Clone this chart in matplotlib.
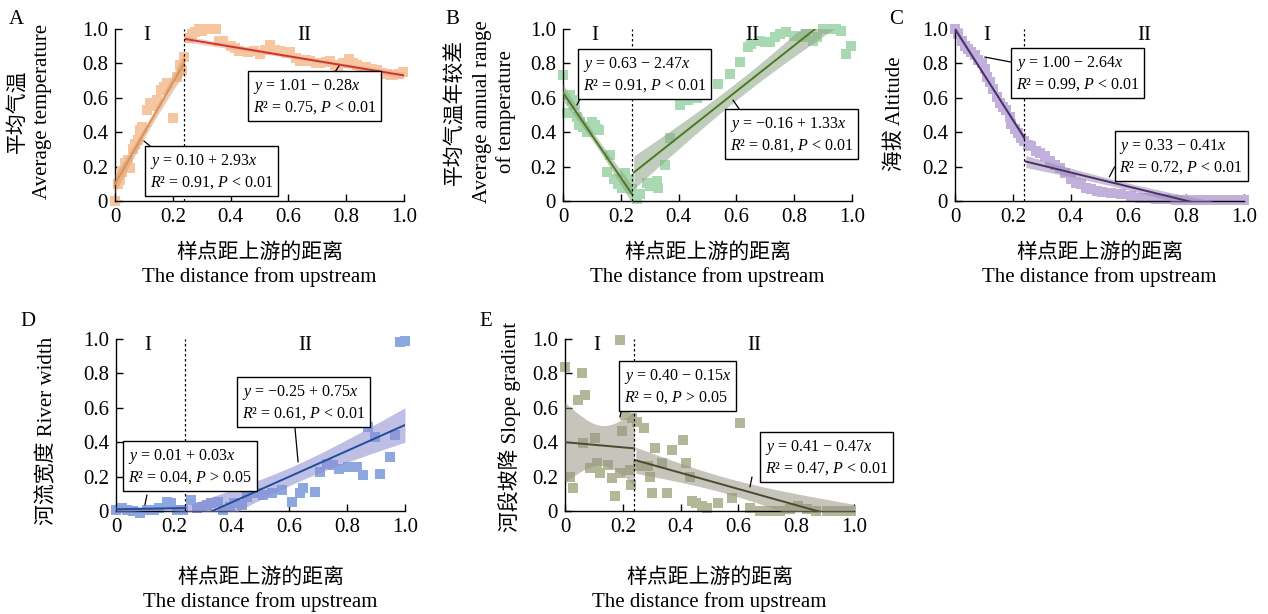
import numpy as np
import matplotlib
matplotlib.use("Agg")
import matplotlib.pyplot as plt

plt.rcParams['font.family'] = ['Liberation Serif', 'Noto Sans CJK SC']
plt.rcParams['mathtext.fontset'] = 'custom'
plt.rcParams['mathtext.rm'] = 'Liberation Serif'
plt.rcParams['mathtext.it'] = 'Liberation Serif:italic'

# ---- data (normalised values) ----
a_x = [0.000, 0.010, 0.017, 0.025, 0.035, 0.045, 0.052, 0.062, 0.070, 0.080, 0.087, 0.095,
       0.110, 0.120, 0.130, 0.144, 0.160, 0.170, 0.180, 0.200, 0.213, 0.225, 0.232, 0.240,
       0.255, 0.265, 0.277, 0.290, 0.300, 0.310, 0.322, 0.335, 0.350, 0.360, 0.375, 0.400,
       0.415, 0.430, 0.460, 0.480, 0.500, 0.520, 0.536, 0.555, 0.570, 0.590, 0.605, 0.625,
       0.640, 0.660, 0.675, 0.695, 0.710, 0.730, 0.745, 0.760, 0.773, 0.790, 0.810, 0.825,
       0.836, 0.850, 0.870, 0.890, 0.905, 0.925, 0.940, 0.955, 0.963, 0.980, 0.998]
a_y = [0.00, 0.10, 0.12, 0.17, 0.22, 0.24, 0.19, 0.30, 0.33, 0.355, 0.41, 0.43,
       0.53, 0.57, 0.55, 0.59, 0.645, 0.66, 0.685, 0.48, 0.72, 0.79, 0.76, 0.84,
       0.95, 0.97, 0.98, 1.00, 0.99, 1.00, 1.00, 1.00, 1.00, 0.93, 0.93, 0.90,
       0.89, 0.875, 0.865, 0.87, 0.855, 0.88, 0.905, 0.88, 0.875, 0.86, 0.865, 0.83,
       0.815, 0.82, 0.815, 0.80, 0.80, 0.81, 0.815, 0.79, 0.78, 0.80, 0.825, 0.80,
       0.79, 0.78, 0.78, 0.77, 0.76, 0.745, 0.74, 0.735, 0.73, 0.74, 0.75]

b_x = [0.000, 0.014, 0.025, 0.030, 0.043, 0.048, 0.055, 0.060, 0.070, 0.083, 0.100, 0.110,
       0.117, 0.123, 0.152, 0.163, 0.175, 0.190, 0.204, 0.215, 0.227, 0.238,
       0.255, 0.267, 0.290, 0.300, 0.325, 0.330, 0.353, 0.370, 0.405, 0.417, 0.434, 0.445,
       0.463, 0.474, 0.497, 0.537, 0.578, 0.612, 0.640, 0.652, 0.680, 0.700, 0.716, 0.733,
       0.750, 0.773, 0.800, 0.830, 0.842, 0.865, 0.880, 0.900, 0.923, 0.946, 0.963, 0.980,
       0.998]
b_y = [0.73, 0.51, 0.615, 0.587, 0.56, 0.49, 0.44, 0.46, 0.43, 0.40, 0.46, 0.44,
       0.42, 0.41, 0.17, 0.27, 0.125, 0.096, 0.077, 0.16, 0.125, 0.067,
       0.01, 0.038, 0.106, 0.087, 0.115, 0.077, 0.21, 0.365, 0.557, 0.596, 0.587, 0.606,
       0.596, 0.615, 0.644, 0.683, 0.74, 0.81, 0.894, 0.913, 0.933, 0.923, 0.923, 0.952,
       0.97, 0.98, 0.96, 0.952, 0.97, 0.933, 0.952, 1.00, 1.00, 1.00, 0.99, 0.856,
       0.90]

c_x = [0.000, 0.011, 0.023, 0.034, 0.046, 0.057, 0.069, 0.080, 0.092, 0.103, 0.110, 0.120,
       0.132, 0.144, 0.155, 0.167, 0.178, 0.190, 0.195, 0.207, 0.218, 0.230, 0.240,
       0.253, 0.264, 0.280, 0.293, 0.310, 0.328, 0.345, 0.362, 0.380, 0.402, 0.420, 0.437,
       0.454, 0.471, 0.490, 0.510, 0.540, 0.575, 0.610, 0.640, 0.660, 0.695, 0.730, 0.765,
       0.800, 0.820, 0.845, 0.880, 0.914, 0.948, 0.980, 1.000]
c_y = [1.00, 0.97, 0.93, 0.90, 0.885, 0.865, 0.846, 0.817, 0.80, 0.77, 0.72, 0.69,
       0.65, 0.606, 0.567, 0.548, 0.53, 0.49, 0.45, 0.42, 0.394, 0.365, 0.346,
       0.327, 0.317, 0.29, 0.28, 0.26, 0.23, 0.21, 0.19, 0.163, 0.125, 0.106, 0.096,
       0.077, 0.067, 0.058, 0.052, 0.048, 0.038, 0.029, 0.019, 0.019, 0.013, 0.01, 0.006,
       0.006, 0.004, 0.004, 0.004, 0.004, 0.004, 0.004, 0.004]

d_x = [0.000, 0.020, 0.037, 0.060, 0.083, 0.106, 0.130, 0.150, 0.175, 0.190, 0.210, 0.233,
       0.260, 0.280, 0.297, 0.314, 0.330, 0.354, 0.370, 0.394, 0.410, 0.435, 0.452, 0.470,
       0.487, 0.510, 0.540, 0.573, 0.608, 0.637, 0.648, 0.689, 0.706, 0.730, 0.752, 0.770,
       0.804, 0.833, 0.856, 0.873, 0.896, 0.913, 0.948, 0.965, 0.983, 1.000]
d_y = [0.005, 0.015, 0.005, 0.000, -0.01, 0.005, 0.005, 0.015, 0.054, 0.048, 0.005, 0.005,
       0.064, 0.015, 0.025, 0.035, 0.044, 0.054, 0.005, 0.025, 0.044, 0.035, 0.083, 0.112,
       0.102, 0.093, 0.102, 0.122, 0.054, 0.102, 0.131, 0.112, 0.228, 0.276, 0.266, 0.247,
       0.257, 0.257, 0.208, 0.488, 0.43, 0.218, 0.315, 0.44, 0.98, 0.99]

e_x = [0.000, 0.017, 0.029, 0.046, 0.058, 0.063, 0.069, 0.087, 0.104, 0.110, 0.121, 0.150,
       0.161, 0.173, 0.190, 0.190, 0.196, 0.208, 0.225, 0.230, 0.232,
       0.250, 0.254, 0.275, 0.288, 0.294, 0.300, 0.311, 0.335, 0.352, 0.370, 0.410, 0.420,
       0.433, 0.438, 0.455, 0.473, 0.490, 0.530, 0.577, 0.606, 0.640, 0.675, 0.710, 0.744,
       0.780, 0.807, 0.836, 0.870, 0.905, 0.940, 0.963, 0.990]
e_y = [0.84, 0.20, 0.135, 0.647, 0.80, 0.396, 0.676, 0.25, 0.425, 0.28, 0.222, 0.27,
       0.193, 0.087, 0.222, 0.994, 0.463, 0.56, 0.24, 0.154, 0.54,
       0.52, 0.26, 0.48, 0.26, 0.20, 0.106, 0.367, 0.28, 0.106, 0.357, 0.415, 0.28,
       0.20, 0.058, 0.048, 0.029, 0.019, 0.048, 0.077, 0.51, 0.019, 0.0, 0.0, 0.0,
       0.01, 0.029, 0.01, 0.0, 0.0, 0.0, 0.0, 0.0]

# regression coefficients (intercept, slope) printed in the panels
a_coef = [(0.10, 2.93), (1.01, -0.28)]
b_coef = [(0.63, -2.47), (-0.16, 1.33)]
c_coef = [(1.00, -2.64), (0.33, -0.41)]
d_coef = [(0.01, 0.03), (-0.25, 0.75)]
e_coef = [(0.40, -0.15), (0.41, -0.47)]

a_text = ['$y$ = 0.10 + 2.93$x$\n$R$² = 0.91, $P$ < 0.01',
          '$y$ = 1.01 − 0.28$x$\n$R$² = 0.75, $P$ < 0.01']
b_text = ['$y$ = 0.63 − 2.47$x$\n$R$² = 0.91, $P$ < 0.01',
          '$y$ = −0.16 + 1.33$x$\n$R$² = 0.81, $P$ < 0.01']
c_text = ['$y$ = 1.00 − 2.64$x$\n$R$² = 0.99, $P$ < 0.01',
          '$y$ = 0.33 − 0.41$x$\n$R$² = 0.72, $P$ < 0.01']
d_text = ['$y$ = 0.01 + 0.03$x$\n$R$² = 0.04, $P$ > 0.05',
          '$y$ = −0.25 + 0.75$x$\n$R$² = 0.61, $P$ < 0.01']
e_text = ['$y$ = 0.40 − 0.15$x$\n$R$² = 0, $P$ > 0.05',
          '$y$ = 0.41 − 0.47$x$\n$R$² = 0.47, $P$ < 0.01']

xlabel = '样点距上游的距离\nThe distance from upstream'
ylabels = [['平均气温', 'Average temperature'],
           ['平均气温年较差', 'Average annual range', 'of temperature'],
           ['海拔 Altitude'],
           ['河流宽度 River width'],
           ['河段坡降 Slope gradient']]
letters = ['A', 'B', 'C', 'D', 'E']
split = 0.245

fig = plt.figure(figsize=(12.68, 6.14), dpi=100)

W, H = 289 / 1268, 172 / 614
panels = [
    dict(pos=(115, 201), x=a_x, y=a_y, coef=a_coef, text=a_text, mk='#F6C6A0',
         lines=['#D9925A', '#D0342C'], bands=['#DDA070', '#E2AE98'],
         boxes=[(0.121, 0.285), (0.478, 0.721)],
         leaders=[((0.121, 0.320), (0.100, 0.349)), ((0.761, 0.750), (0.775, 0.785))],
         ylab=([18, 43], 0.52), xlab=-0.372, letter=(16, 19)),
    dict(pos=(563, 201), x=b_x, y=b_y, coef=b_coef, text=b_text, mk='#A9D9B2',
         lines=['#4A7A1E', '#4A7A1E'], bands=['#8FA585', '#8FA585'],
         boxes=[(0.069, 0.849), (0.578, 0.500)],
         leaders=[((0.069, 0.628), (0.048, 0.558)), ((0.612, 0.529), (0.588, 0.587))],
         ylab=([456, 482, 506], 0.52), xlab=-0.372, letter=(452, 19)),
    dict(pos=(955, 201), x=c_x, y=c_y, coef=c_coef, text=c_text, mk='#C1B0DC',
         lines=['#4B2E6B', '#4B2E6B'], bands=['#9D8DB5', '#9D8DB5'],
         boxes=[(0.210, 0.855), (0.569, 0.372)],
         leaders=[((0.193, 0.808), (0.103, 0.837)), ((0.552, 0.198), (0.534, 0.140))],
         ylab=([895], 0.51), xlab=-0.372, letter=(896, 20)),
    dict(pos=(116, 511), x=d_x, y=d_y, coef=d_coef, text=d_text, mk='#8DA8E0',
         lines=['#1F4E9C', '#1F4E9C'], bands=['#8C8CD0', '#8C8CD0'],
         boxes=[(0.042, 0.372), (0.436, 0.744)],
         leaders=[((0.107, 0.093), (0.100, 0.035)), ((0.619, 0.488), (0.630, 0.285))],
         ylab=([47], 0.465), xlab=-0.46, letter=(28, 321)),
    dict(pos=(565, 511), x=e_x, y=e_y, coef=e_coef, text=e_text, mk='#B2B897',
         lines=['#4A4A30', '#4A4A30'], bands=['#9A9585', '#9A9585'],
         boxes=[(0.204, 0.837), (0.692, 0.424)],
         leaders=[((0.197, 0.599), (0.190, 0.547)), ((0.647, 0.198), (0.640, 0.140))],
         ylab=([510], 0.488), xlab=-0.46, letter=(486, 321)),
]


def fit_band(ax, xs, ys, a, b, x0, x1, lc, bc):
    xs = np.asarray(xs)
    ys = np.asarray(ys)
    n = len(xs)
    res = ys - (a + b * xs)
    s = np.sqrt(np.sum(res ** 2) / (n - 2))
    xm = xs.mean()
    sxx = np.sum((xs - xm) ** 2)
    xx = np.linspace(x0, x1, 200)
    yy = a + b * xx
    half = 2.0 * s * np.sqrt(1 / n + (xx - xm) ** 2 / sxx)
    ax.fill_between(xx, yy - half, yy + half, color=bc, alpha=0.55, lw=0, zorder=3)
    ax.plot(xx, yy, color=lc, lw=1.4, zorder=4)


for i, p in enumerate(panels):
    px, py = p['pos']
    ax = fig.add_axes([px / 1268, 1 - py / 614, W, H])
    x = np.asarray(p['x'])
    y = np.asarray(p['y'])
    ax.scatter(x, y, marker='s', s=58, color=p['mk'], lw=0, zorder=2, clip_on=False)

    m1 = x < split
    fit_band(ax, x[m1], y[m1], *p['coef'][0], 0.0, 0.24, p['lines'][0], p['bands'][0])
    fit_band(ax, x[~m1], y[~m1], *p['coef'][1], split, 1.0, p['lines'][1], p['bands'][1])

    ax.axvline(0.24, color='black', ls=(0, (2, 2)), lw=0.9, zorder=5)
    ax.text(0.11, 0.96, 'I', fontsize=15, ha='center', va='center', zorder=6)
    ax.text(0.655, 0.96, 'II', fontsize=15, ha='center', va='center', zorder=6)

    for (bx, by), t in zip(p['boxes'], p['text']):
        ax.text(bx, by, t, transform=ax.transAxes, fontsize=11.5, ha='left', va='top',
                linespacing=1.3, zorder=8,
                bbox=dict(boxstyle='square,pad=0.3', fc='white', ec='black', lw=1))
    for s0, s1 in p['leaders']:
        ax.annotate('', xy=s1, xytext=s0, xycoords='axes fraction',
                    textcoords='axes fraction',
                    arrowprops=dict(arrowstyle='-', color='black', lw=0.9,
                                    shrinkA=0, shrinkB=0), zorder=7)

    ax.set_xlim(0, 1)
    ax.set_ylim(0, 1)
    ticks = [0, 0.2, 0.4, 0.6, 0.8, 1.0]
    tl = ['0', '0.2', '0.4', '0.6', '0.8', '1.0']
    ax.set_xticks(ticks)
    ax.set_xticklabels(tl)
    ax.set_yticks(ticks)
    ax.set_yticklabels(tl)
    ax.tick_params(direction='in', length=5, width=1, labelsize=15, pad=5)
    ax.spines['top'].set_visible(False)
    ax.spines['right'].set_visible(False)
    for sp in ['left', 'bottom']:
        ax.spines[sp].set_linewidth(1)

    # y label lines, each drawn on its own column
    cols, yc = p['ylab']
    for line, cx in zip(ylabels[i], cols):
        ax.text((cx - px) / 289, yc, line, transform=ax.transAxes, fontsize=15,
                rotation=90, ha='center', va='center', rotation_mode='anchor')
    ax.set_xlabel(xlabel, fontsize=15, va='center', ha='center', linespacing=1.25)
    ax.xaxis.set_label_coords(0.5, p['xlab'])

    lx, ly = p['letter']
    fig.text(lx / 1268, 1 - ly / 614, letters[i], fontsize=15, ha='center', va='center')

fig.savefig('out.png', dpi=100)
